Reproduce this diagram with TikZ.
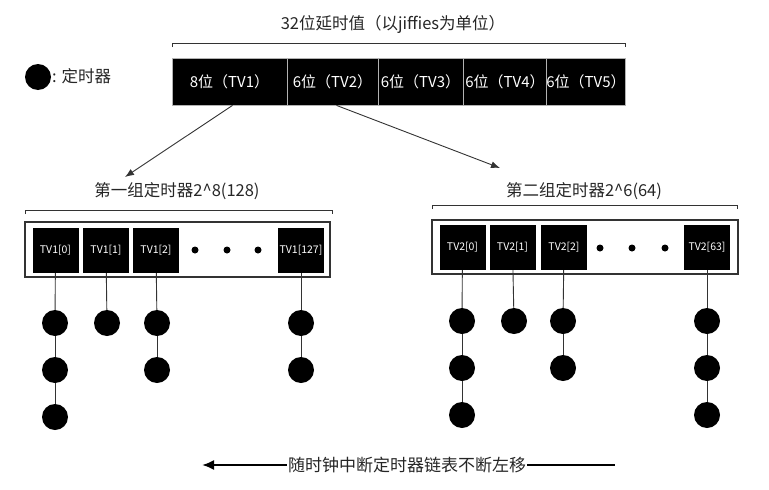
\documentclass[tikz,border=0pt]{standalone}
\usepackage{fontspec}
\setmainfont{Noto Sans CJK SC}
\usetikzlibrary{arrows.meta}

\begin{document}
\begin{tikzpicture}[x=1pt,y=-1pt,
  seg/.style={fill=black,text=white,draw=white!70!black,line width=0.8pt,minimum height=47pt,inner sep=0pt,font=\fontsize{15}{15}\selectfont},
  slot/.style={fill=black,text=white,minimum width=46pt,minimum height=45pt,inner sep=0pt,font=\fontsize{10.5}{10.5}\selectfont},
  tmr/.style={circle,fill=black,minimum size=26pt,inner sep=0pt},
  wire/.style={draw=black!80,line width=0.9pt},
  brk/.style={draw=black!80,line width=0.8pt},
  ttl/.style={font=\fontsize{16.5}{16.5}\selectfont,text=black!85},
  dot/.style={circle,fill=black,minimum size=7pt,inner sep=0pt}]
\useasboundingbox (0,0) rectangle (769,490);

% legend
\node[tmr] (lg) at (38,77) {};
\node[anchor=west,ttl,inner sep=0pt] (lgtxt) at (52,76) {: 定时器};

% 32 bit value
\node[ttl] (title) at (393,24) {32位延时值（以jiffies为单位）};
\draw[brk] (172,47) -- (172,43) -- (625,43) -- (625,47);
\node[seg,minimum width=115pt] (seg1) at (229.5,81.5) {8位（TV1）};
\node[seg,minimum width=91pt] (seg2) at (332.5,81.5) {6位（TV2）};
\node[seg,minimum width=85pt] (seg3) at (420.5,81.5) {6位（TV3）};
\node[seg,minimum width=84pt] (seg4) at (505,81.5) {6位（TV4）};
\node[seg,minimum width=78pt] (seg5) at (586,81.5) {6位（TV5）};

\coordinate (g1in) at (125,177);
\coordinate (g2in) at (500,168);
\draw[wire,-{Latex[length=9pt,width=7pt]}] ([xshift=3pt]seg1.south) -- (g1in);
\draw[wire,-{Latex[length=9pt,width=7pt]}] ([xshift=4pt]seg2.south) -- (g2in);

% first group
\begin{scope}
\node[ttl] (g1) at (177,191) {第一组定时器2\^{}8(128)};
\draw[brk] (25,214) -- (25,210) -- (332,210) -- (332,214);
\draw[draw=black!80,line width=1.5pt] (25,222) rectangle (330,277);
\foreach \c/\x/\lab in {0/55.5/{TV1[0]},1/106/{TV1[1]},2/156/{TV1[2]},3/301/{TV1[127]}}
  \node[slot] (a\c-0) at (\x,250.5) {\lab};
\foreach \x [count=\d] in {195,227,258}
  \node[dot] (ad\d) at (\x,250) {};
\foreach \c/\x/\k in {0/55/3,1/107/1,2/157/2,3/301/2}{
  \foreach \i [remember=\i as \p (initially 0)] in {1,...,\k} {
    \node[tmr] (a\c-\i) at (\x,{323+47*(\i-1)}) {};
    \draw[wire] (a\c-\p) -- (a\c-\i);
  }
}
\end{scope}

% second group
\begin{scope}
\node[ttl] (g2) at (584,191) {第二组定时器2\^{}6(64)};
\draw[brk] (432,209) -- (432,205) -- (737,205) -- (737,209);
\draw[draw=black!80,line width=1.5pt] (432,220) rectangle (738,274);
\foreach \c/\x/\lab in {0/462.5/{TV2[0]},1/512.5/{TV2[1]},2/564/{TV2[2]},3/707/{TV2[63]}}
  \node[slot] (b\c-0) at (\x,247.5) {\lab};
\foreach \x [count=\d] in {600,632,665}
  \node[dot] (bd\d) at (\x,248) {};
\foreach \c/\x/\k in {0/462/3,1/514/1,2/563/2,3/707/3}{
  \foreach \i [remember=\i as \p (initially 0)] in {1,...,\k} {
    \node[tmr] (b\c-\i) at (\x,{321+47*(\i-1)}) {};
    \draw[wire] (b\c-\p) -- (b\c-\i);
  }
}
\end{scope}

% shift direction
\node[ttl,font=\fontsize{17}{17}\selectfont,inner sep=1pt] (move) at (407,465) {随时钟中断定时器链表不断左移};
\coordinate (moveL) at (202,465);
\coordinate (moveR) at (615,465);
\draw[line width=2pt,-{Latex[length=12pt,width=10pt]}] (move.west) -- (moveL);
\draw[line width=2pt] (move.east) -- (moveR);

\end{tikzpicture}
\end{document}
